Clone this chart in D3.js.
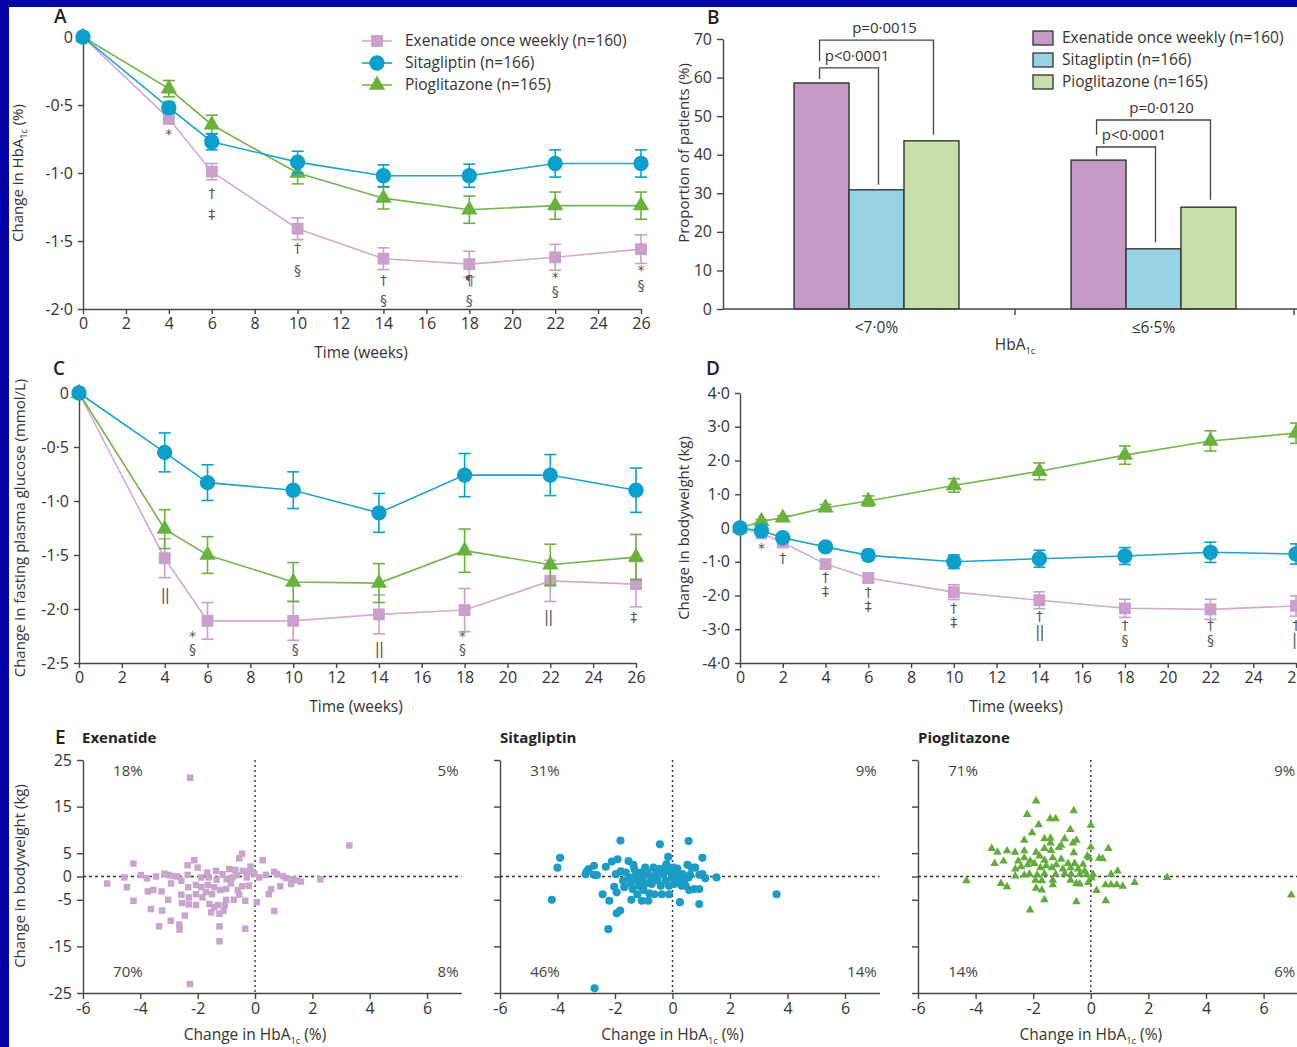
<!DOCTYPE html>
<html>
<head>
<meta charset="utf-8">
<script src="https://cdn.jsdelivr.net/npm/d3@7"></script>
<style>
body { margin: 0; background: #0303a6; overflow: hidden; }
svg { display: block; font-family: "Open Sans", sans-serif; }
</style>
</head>
<body>
<svg id="fig" width="1297" height="1047"></svg>
<script>
// ---- data ----
var seriesNames = ['Exenatide once weekly (n=160)', 'Sitagliptin (n=166)', 'Pioglitazone (n=165)'];
var weeks = [0, 4, 6, 10, 14, 18, 22, 26];
var weeksD = [0, 1, 2, 4, 6, 10, 14, 18, 22, 26];

// A: change in HbA1c (%)
var hbaExe = [0, -0.60, -0.99, -1.41, -1.63, -1.67, -1.62, -1.56];
var hbaExeErr = [0, 0.04, 0.06, 0.08, 0.08, 0.095, 0.095, 0.105];
var hbaSit = [0, -0.52, -0.77, -0.92, -1.02, -1.02, -0.93, -0.93];
var hbaSitErr = [0, 0.04, 0.06, 0.08, 0.08, 0.085, 0.1, 0.1];
var hbaPio = [0, -0.38, -0.645, -1.0, -1.185, -1.27, -1.24, -1.24];
var hbaPioErr = [0, 0.06, 0.07, 0.08, 0.08, 0.1, 0.1, 0.1];
var hbaNotes = [[4, -0.68, '*'], [6, -1.15, '†'], [6, -1.30, '‡'], [10, -1.55, '†'], [10, -1.71, '§'],
  [14, -1.79, '†'], [14, -1.93, '§'], [18, -1.79, '¶'], [18, -1.93, '§'], [22, -1.73, '*'], [22, -1.87, '§'],
  [26, -1.68, '*'], [26, -1.82, '§']];

// B: proportion of patients reaching target (%)
var targetGroups = ['<7·0%', '≤6·5%'];
var targetExe = [58.6, 38.6];
var targetSit = [30.9, 15.6];
var targetPio = [43.6, 26.4];
var pBrackets = [
  {group: 0, a: 0, b: 2, top: 69.7, endA: 64.3, endB: 45.2, label: 'p=0·0015'},
  {group: 0, a: 0, b: 1, top: 62.5, endA: 59.6, endB: 32.2, label: 'p<0·0001'},
  {group: 1, a: 0, b: 2, top: 49.0, endA: 45.2, endB: 28.3, label: 'p=0·0120'},
  {group: 1, a: 0, b: 1, top: 42.0, endA: 39.7, endB: 17.3, label: 'p<0·0001'}
];

// C: change in fasting plasma glucose (mmol/L)
var fpgExe = [0, -1.53, -2.11, -2.11, -2.05, -2.01, -1.74, -1.77];
var fpgExeErr = [0, 0.18, 0.17, 0.18, 0.18, 0.2, 0.19, 0.21];
var fpgSit = [0, -0.55, -0.83, -0.90, -1.11, -0.76, -0.76, -0.90];
var fpgSitErr = [0, 0.18, 0.165, 0.17, 0.18, 0.2, 0.19, 0.205];
var fpgPio = [0, -1.26, -1.50, -1.75, -1.76, -1.46, -1.59, -1.52];
var fpgPioErr = [0, 0.18, 0.17, 0.18, 0.18, 0.2, 0.19, 0.21];
var fpgNotes = [[4, -1.87, '||'], [5.3, -2.21, '*'], [5.3, -2.37, '§'], [10.1, -2.37, '§'], [14, -2.37, '||'],
  [17.9, -2.21, '*'], [17.9, -2.37, '§'], [21.9, -2.07, '||'], [25.9, -2.07, '‡']];

// D: change in bodyweight (kg)
var bwExe = [0, -0.16, -0.43, -1.07, -1.48, -1.90, -2.14, -2.38, -2.41, -2.31];
var bwExeErr = [0, 0.05, 0.06, 0.12, 0.15, 0.22, 0.25, 0.27, 0.3, 0.3];
var bwSit = [0, -0.08, -0.29, -0.56, -0.81, -1.0, -0.91, -0.83, -0.72, -0.77];
var bwSitErr = [0, 0.05, 0.06, 0.1, 0.15, 0.2, 0.25, 0.25, 0.3, 0.3];
var bwPio = [0, 0.2, 0.3, 0.6, 0.8, 1.26, 1.68, 2.16, 2.58, 2.81];
var bwPioErr = [0, 0.05, 0.06, 0.1, 0.15, 0.2, 0.25, 0.27, 0.3, 0.3];
var bwNotes = [[1, -0.44, '*'], [2, -0.89, '†'], [4, -1.45, '†'], [4, -1.87, '‡'], [6, -1.90, '†'], [6, -2.31, '‡'],
  [10, -2.37, '†'], [10, -2.79, '‡'], [14, -2.61, '†'], [14, -3.08, '||'], [18, -2.87, '†'], [18, -3.32, '§'],
  [22, -2.87, '†'], [22, -3.32, '§'], [26, -2.87, '†'], [26, -3.32, '||']];

// E: individual change in HbA1c (%) vs bodyweight (kg)
var scExeX = [-2.26, 3.29, -4.24, -5.16, -4.56, -4.47, -4.24, -3.98, -3.77, -3.74, -3.55, -3.63, -3.45, -3.26, -3.24,
  -3.34, -3.16, -3.03, -3.03, -2.94, -2.93, -2.87, -2.70, -2.64, -2.63, -2.57, -2.57, -2.55, -2.45, -2.35, -2.35,
  -2.33, -2.31, -2.31, -2.27, -2.12, -2.06, -2.06, -2.06, -2.00, -1.88, -1.88, -1.83, -1.71, -1.67, -1.65, -1.62,
  -1.59, -1.53, -1.50, -1.42, -1.42, -1.36, -1.34, -1.30, -1.24, -1.24, -1.24, -1.22, -1.13, -1.10, -1.06, -1.01,
  -1.01, -0.99, -0.90, -0.84, -0.78, -0.74, -0.69, -0.64, -0.60, -0.55, -0.55, -0.45, -0.45, -0.43, -0.34, -0.34,
  -0.29, -0.26, -0.22, -0.16, -0.08, -0.02, 0.06, 0.15, 0.27, 0.38, 0.48, 0.56, 0.67, 0.67, 0.77, 0.88, 0.97,
  1.08, 1.26, 1.31, 1.43, 1.60, 2.28];
var scExeY = [21.2, 6.67, 2.77, -1.5, -0.2, -2.3, -5.2, 0.3, -0.4, -3.2, -2.9, -7.0, 0, -3.2, -7.3,
  -10.7, 0.6, 0.35, -5.0, -9.5, -1.5, 0.1, 0, -10.3, -11.4, -0.9, -3.9, -5.7, -8.4, 2.4, 0.35,
  -2.3, -4.5, -6.0, -23.1, 3.5, -1.8, -3.8, -6.1, 1.9, -0.2, -2.3, -4.5, -3.3, 0.85, -1.8, -0.2,
  -5.9, -7.7, -3.8, -2.3, -6.6, 1.2, -0.7, -6.1, -10.7, -13.9, -8.0, -2.9, 0.5, -7.4, -6.2, -2.7,
  -5.0, -0.6, 1.6, -1.5, -0.2, -5.0, 1.4, 0.3, -2.9, -3.9, 3.9, 4.9, -2.1, 1.2, -5.2, -11.2,
  -0.2, 1.1, -2.0, 2.1, 0.9, 0.6, -5.5, -0.2, 3.5, 0.35, -3.8, -2.7, 1.0, -7.4, 0.5, -2.1, 0.1,
  -0.35, -1.6, -0.6, -0.8, -1.1, -0.6];
var scSitX = [-1.81, -0.44, 0.56, -3.91, -4.00, -4.20, -2.99, -2.92, -2.73, -2.73, -2.63, -3.02, -2.43, -2.32, -2.20,
  -2.23, -2.11, -1.91, -1.94, -1.82, -1.97, -2.03, -1.94, -1.80, -1.72, -1.68, -1.62, -1.53, -1.51, -1.45, -1.43,
  -1.39, -1.36, -1.33, -1.28, -1.24, -1.22, -1.16, -1.10, -1.07, -1.04, -1.01, -0.95, -0.93, -0.87, -0.84, -0.81,
  -0.75, -0.72, -0.66, -0.63, -0.58, -0.52, -0.46, -0.41, -0.37, -0.32, -0.26, -0.23, -0.21, -0.15, -0.12, -0.12,
  -0.06, -0.02, 0.02, 0.06, 0.12, 0.17, 0.23, 0.26, 0.32, 0.35, 0.41, 0.46, 0.52, 0.56, 0.58, 0.61, 0.67, 0.75,
  0.79, 0.93, 0.93, 0.93, 1.04, 1.04, 1.14, 1.53, 3.62, -2.71];
var scSitY = [7.7, 6.9, 7.6, 4.0, 1.9, -5.0, 1.0, 1.6, 2.3, 0.35, 0.3, 0.5, -3.8, 2.1, -5.2,
  -11.3, 3.2, 3.7, -7.9, -7.3, 0.5, -2.2, -3.4, 1.1, -0.9, -2.3, 0.85, 3.3, -0.2, -1.5, -5.0,
  -2.7, 2.5, 1.6, 0.3, -0.8, -3.8, -2.0, 0.85, -5.2, -0.35, -2.9, 1.9, -1.5, 0.85, -5.2, -3.6,
  -0.2, -1.6, 1.9, -3.8, 0.5, -0.8, 1.6, -2.0, -3.8, 0.5, 1.9, -0.9, 2.6, 4.2, -3.8, -2.0,
  0.85, -0.2, 1.9, -1.6, 0.5, 1.7, -0.6, -5.5, -2.0, 0.5, -0.9, -2.0, 2.5, -0.2, -2.9, 0.35, 1.9, -2.7,
  1.9, -2.7, -5.9, 0.35, 4.0, 0.5, -0.35, -0.2, -3.8, -24.0];
var scPioX = [-1.90, -0.59, -2.21, -1.41, -1.22, -1.81, 0.0, -0.71, -2.04, -1.61, -1.40, -2.31, -0.91, -0.50, -0.62,
  -1.03, -1.40, -3.44, -3.24, -2.91, -2.63, -2.31, -1.90, -1.61, -1.38, -1.11, -0.59, 0.0, 0.61, -3.34, -3.03,
  -2.52, -2.31, -2.10, -1.78, -1.61, -1.32, -1.03, -0.79, -0.56, -0.27, -0.12, -0.06, 0.29, 0.41, -2.62, -2.42,
  -2.19, -1.96, -1.75, -1.55, -1.35, -1.20, -0.97, -0.70, -0.44, -0.21, -2.62, -2.31, -2.13, -1.86, -1.61, -1.22,
  -0.91, -0.68, -0.38, -0.15, 0.08, 0.70, 0.93, -4.32, -3.12, -2.91, -1.92, -1.90, -1.70, -1.70, -1.32, -1.32,
  -0.70, -0.50, -0.38, -0.09, 0.02, 0.20, 0.51, 0.70, 0.90, 1.11, 1.52, 2.65, -1.61, -0.50, 0.52, -2.11, 6.96];
var scPioY = [16.2, 14.1, 13.3, 12.4, 12.4, 11.1, 11.0, 10.1, 9.4, 8.1, 8.2, 7.8, 8.1, 7.8, 7.2,
  6.7, 7.2, 6.0, 5.2, 5.5, 5.2, 5.5, 5.2, 6.0, 5.6, 6.2, 5.1, 6.3, 6.0, 2.8, 3.3,
  3.3, 4.0, 3.3, 4.4, 3.5, 4.0, 3.7, 2.8, 2.8, 2.6, 4.4, 4.0, 3.9, 3.8, 1.6, 2.1,
  2.5, 2.8, 1.9, 2.3, 1.9, 2.5, 1.6, 1.9, 1.6, 1.2, 0.1, 0.3, 0.5, 0.35, 0.6, 0.5,
  0.6, 0.5, 0.5, 0.35, 0.5, 0.5, 1.2, -0.9, -1.5, -2.2, -0.8, -2.5, -2.9, -0.9, -1.8, -0.8,
  -0.8, -1.5, -1.6, -1.3, -0.35, -3.0, -1.8, -1.8, -1.8, -2.1, -1.3, -0.2, -5.0, -5.4, -5.2, -7.2, -4.0];
var quadExe = ['18%', '5%', '70%', '8%'];
var quadSit = ['31%', '9%', '46%', '14%'];
var quadPio = ['71%', '9%', '14%', '6%'];

// ---- style ----
var markColor = ['#c8a0c9', '#0c9fca', '#6ab13e'];
var lineColor = ['#d3aad3', '#1ea3cb', '#74b64a'];
var barColor = ['#c49bc4', '#98d3e1', '#c7e0aa'];
var dotColor = ['#c9a5cd', '#1c9cc4', '#62ab3c'];
var symbols = [d3.symbolSquare, d3.symbolCircle, d3.symbolTriangle];
var symSize = [140, 185, 115];
var ink = '#333';
var axisInk = '#444';

var svg = d3.select('#fig');
svg.append('rect')
    .attr('x', 9).attr('y', 7)
    .attr('width', 1297).attr('height', 1047)
    .attr('fill', '#fff');

function fmtDec(d) {
    if (d === 0) return '0';
    return d3.format('.1f')(d).replace('.', '·').replace('−', '-');
}
function fmtInt(d) {
    return String(d).replace('−', '-');
}

function styleAxis(g) {
    g.attr('font-family', null).attr('font-size', 16);
    g.selectAll('path.domain').attr('stroke', axisInk).attr('stroke-width', 1.4);
    g.selectAll('.tick line').attr('stroke', axisInk).attr('stroke-width', 1.4);
    g.selectAll('.tick text').attr('fill', ink);
}

function hbaLabel(sel, before, after) {
    sel.append('tspan').text(before + 'HbA');
    sel.append('tspan').attr('font-size', '0.6em').attr('dy', 4).text('1c');
    sel.append('tspan').attr('dy', -4).text(after);
}

function panelLetter(x, y, s) {
    svg.append('text').attr('x', x).attr('y', y)
        .attr('font-size', 19).attr('font-weight', 600).attr('fill', '#222')
        .text(s);
}

function yTitle(x, cy, s) {
    return svg.append('text')
        .attr('transform', 'translate(' + x + ',' + cy + ') rotate(-90)')
        .attr('text-anchor', 'middle').attr('dy', '0.35em')
        .attr('font-size', 15).attr('fill', ink)
        .text(s);
}

function xTitle(cx, y, s) {
    return svg.append('text')
        .attr('x', cx).attr('y', y)
        .attr('text-anchor', 'middle')
        .attr('font-size', 15.5).attr('fill', ink)
        .text(s);
}

function drawLines(p) {
    var x = d3.scaleLinear().domain([0, 26]).range(p.xr);
    var y = d3.scaleLinear().domain(p.yd).range(p.yr);
    var g = svg.append('g');
    g.append('g')
        .attr('transform', 'translate(0,' + p.yr[0] + ')')
        .call(d3.axisBottom(x).tickValues(d3.range(0, 27, 2)).tickSize(5).tickSizeOuter(0).tickPadding(4))
        .call(styleAxis);
    g.append('g')
        .attr('transform', 'translate(' + p.xr[0] + ',0)')
        .call(d3.axisLeft(y).tickValues(p.yt).tickFormat(fmtDec).tickSize(5).tickSizeOuter(0).tickPadding(5))
        .call(styleAxis);

    var line = d3.line()
        .x(function (d) { return x(d[0]); })
        .y(function (d) { return y(d[1]); });

    p.series.forEach(function (s) {
        var sg = g.append('g');
        var pts = d3.zip(p.t, s.v, s.e);
        sg.append('path')
            .datum(pts)
            .attr('d', line)
            .attr('fill', 'none')
            .attr('stroke', lineColor[s.k])
            .attr('stroke-width', 1.6);
        var eb = sg.selectAll('g.eb')
            .data(pts.filter(function (d) { return d[2] > 0; }))
            .enter().append('g')
            .attr('stroke', markColor[s.k])
            .attr('stroke-width', 1.6);
        eb.append('line')
            .attr('x1', function (d) { return x(d[0]); })
            .attr('x2', function (d) { return x(d[0]); })
            .attr('y1', function (d) { return y(d[1] - d[2]); })
            .attr('y2', function (d) { return y(d[1] + d[2]); });
        [-1, 1].forEach(function (sgn) {
            eb.append('line')
                .attr('x1', function (d) { return x(d[0]) - 6; })
                .attr('x2', function (d) { return x(d[0]) + 6; })
                .attr('y1', function (d) { return y(d[1] + sgn * d[2]); })
                .attr('y2', function (d) { return y(d[1] + sgn * d[2]); });
        });
        sg.selectAll('path.mk')
            .data(pts)
            .enter().append('path')
            .attr('class', 'mk')
            .attr('transform', function (d) { return 'translate(' + x(d[0]) + ',' + y(d[1]) + ')'; })
            .attr('d', d3.symbol().type(symbols[s.k]).size(symSize[s.k]))
            .attr('fill', markColor[s.k]);
    });

    g.selectAll('text.note')
        .data(p.notes)
        .enter().append('text')
        .attr('class', 'note')
        .attr('x', function (d) { return x(d[0]); })
        .attr('y', function (d) { return y(d[1]); })
        .attr('dy', function (d) { return d[2] === '*' ? '0.7em' : '0.36em'; })
        .attr('text-anchor', 'middle')
        .attr('font-family', '"DejaVu Sans", sans-serif')
        .attr('font-size', function (d) { return d[2] === '||' ? 15 : 14; })
        .attr('letter-spacing', function (d) { return d[2] === '||' ? -1 : 0; })
        .attr('fill', '#555')
        .text(function (d) { return d[2]; });
    return {x: x, y: y};
}

// ---- A ----
panelLetter(54, 23, 'A');
drawLines({
    xr: [83, 641], yr: [309, 37], yd: [-2, 0], yt: [0, -0.5, -1, -1.5, -2], t: weeks,
    series: [
        {k: 0, v: hbaExe, e: hbaExeErr},
        {k: 2, v: hbaPio, e: hbaPioErr},
        {k: 1, v: hbaSit, e: hbaSitErr}
    ],
    notes: hbaNotes
});
hbaLabel(yTitle(18, 173, null), 'Change in ', ' (%)');
xTitle(361, 358, 'Time (weeks)');

var legA = svg.append('g').attr('transform', 'translate(362,41)');
[0, 1, 2].forEach(function (k) {
    var row = legA.append('g').attr('transform', 'translate(0,' + k * 22 + ')');
    row.append('line').attr('x1', 0).attr('x2', 30)
        .attr('stroke', lineColor[k]).attr('stroke-width', 1.6);
    row.append('path').attr('transform', 'translate(15,0)')
        .attr('d', d3.symbol().type(symbols[k]).size(symSize[k]))
        .attr('fill', markColor[k]);
    row.append('text').attr('x', 43).attr('dy', '0.35em')
        .attr('font-size', 15.5).attr('fill', ink).text(seriesNames[k]);
});

// ---- B ----
panelLetter(707, 24, 'B');
(function () {
    var xg = d3.scaleBand().domain(targetGroups).range([738, 1292]);
    var xs = d3.scaleBand().domain([0, 1, 2]).range([0, xg.bandwidth()]).paddingOuter(1.02);
    var y = d3.scaleLinear().domain([0, 70]).range([309, 39]);
    var g = svg.append('g');
    var vals = [targetExe, targetSit, targetPio];

    targetGroups.forEach(function (grp, gi) {
        [0, 1, 2].forEach(function (k) {
            g.append('rect')
                .attr('x', xg(grp) + xs(k))
                .attr('y', y(vals[k][gi]))
                .attr('width', xs.bandwidth())
                .attr('height', y(0) - y(vals[k][gi]))
                .attr('fill', barColor[k])
                .attr('stroke', '#333')
                .attr('stroke-width', 1.4);
        });
    });

    g.append('line').attr('x1', 723).attr('x2', 1297).attr('y1', y(0)).attr('y2', y(0))
        .attr('stroke', axisInk).attr('stroke-width', 1.4);
    [xg.range()[0] + xg.bandwidth(), 1294].forEach(function (tx) {
        g.append('line').attr('x1', tx).attr('x2', tx).attr('y1', y(0)).attr('y2', y(0) + 6)
            .attr('stroke', axisInk).attr('stroke-width', 1.4);
    });
    g.selectAll('text.cat').data(targetGroups).enter().append('text')
        .attr('x', function (d) { return xg(d) + xg.bandwidth() / 2; })
        .attr('y', 333).attr('text-anchor', 'middle')
        .attr('font-size', 15.5).attr('fill', ink)
        .text(function (d) { return d; });

    g.append('g')
        .attr('transform', 'translate(723,0)')
        .call(d3.axisLeft(y).tickValues(d3.range(0, 71, 10)).tickFormat(fmtInt).tickSize(6).tickSizeOuter(0).tickPadding(5))
        .call(styleAxis);

    pBrackets.forEach(function (b) {
        var grp = targetGroups[b.group];
        var xa = xg(grp) + xs(b.a) + xs.bandwidth() / 2 - 2;
        var xb = xg(grp) + xs(b.b) + xs.bandwidth() / 2 + 2;
        g.append('path')
            .attr('d', 'M' + xa + ',' + y(b.endA) + 'V' + y(b.top) + 'H' + xb + 'V' + y(b.endB))
            .attr('fill', 'none').attr('stroke', '#444').attr('stroke-width', 1.3);
        g.append('text')
            .attr('x', (xa + xb) / 2 + 8).attr('y', y(b.top) - 7)
            .attr('text-anchor', 'middle').attr('font-size', 15).attr('fill', ink)
            .text(b.label);
    });

    var leg = svg.append('g').attr('transform', 'translate(1033,38)');
    [0, 1, 2].forEach(function (k) {
        var row = leg.append('g').attr('transform', 'translate(0,' + k * 22 + ')');
        row.append('rect').attr('x', 0).attr('y', -7).attr('width', 20).attr('height', 14)
            .attr('fill', barColor[k]).attr('stroke', '#333').attr('stroke-width', 1.3);
        row.append('text').attr('x', 29).attr('dy', '0.35em')
            .attr('font-size', 15.5).attr('fill', ink).text(seriesNames[k]);
    });

    yTitle(684, 153, 'Proportion of patients (%)');
    hbaLabel(xTitle(1015, 350, null), '', '');
})();

// ---- C ----
panelLetter(53, 375, 'C');
drawLines({
    xr: [79, 636], yr: [663, 393], yd: [-2.5, 0], yt: [0, -0.5, -1, -1.5, -2, -2.5], t: weeks,
    series: [
        {k: 0, v: fpgExe, e: fpgExeErr},
        {k: 2, v: fpgPio, e: fpgPioErr},
        {k: 1, v: fpgSit, e: fpgSitErr}
    ],
    notes: fpgNotes
});
yTitle(20, 528, 'Change in fasting plasma glucose (mmol/L)');
xTitle(356, 712, 'Time (weeks)');

// ---- D ----
panelLetter(706, 375, 'D');
drawLines({
    xr: [740, 1296], yr: [663, 393], yd: [-4, 4], yt: [4, 3, 2, 1, 0, -1, -2, -3, -4], t: weeksD,
    series: [
        {k: 0, v: bwExe, e: bwExeErr},
        {k: 2, v: bwPio, e: bwPioErr},
        {k: 1, v: bwSit, e: bwSitErr}
    ],
    notes: bwNotes
});
yTitle(684, 528, 'Change in bodyweight (kg)');
xTitle(1016, 712, 'Time (weeks)');

// ---- E ----
function drawScatter(p) {
    var x = d3.scaleLinear().domain([-6, 7.2]).range([p.x0, p.x0 + 13.2 * p.unit]);
    var y = d3.scaleLinear().domain([-25, 25]).range([993, 760]);
    var g = svg.append('g');
    g.append('g')
        .attr('transform', 'translate(0,993)')
        .call(d3.axisBottom(x).tickValues(d3.range(-6, 7, 2)).tickFormat(fmtInt).tickSize(6).tickSizeOuter(0).tickPadding(4))
        .call(styleAxis);
    g.append('g')
        .attr('transform', 'translate(' + p.x0 + ',0)')
        .call(d3.axisLeft(y).tickValues([25, 15, 5, 0, -5, -15, -25])
            .tickFormat(p.labels ? fmtInt : function () { return ''; })
            .tickSize(6).tickSizeOuter(0).tickPadding(5))
        .call(styleAxis);
    g.append('line').attr('x1', x(-6)).attr('x2', x(7.2)).attr('y1', y(0)).attr('y2', y(0))
        .attr('stroke', '#333').attr('stroke-width', 1.4).attr('stroke-dasharray', '3,3');
    g.append('line').attr('x1', x(0)).attr('x2', x(0)).attr('y1', y(25)).attr('y2', y(-25))
        .attr('stroke', '#333').attr('stroke-width', 1.4).attr('stroke-dasharray', '2,3');
    g.selectAll('path.pt')
        .data(d3.zip(p.xs, p.ys))
        .enter().append('path')
        .attr('transform', function (d) { return 'translate(' + x(d[0]) + ',' + y(d[1]) + ')'; })
        .attr('d', d3.symbol().type(symbols[p.k]).size([42, 52, 32][p.k]))
        .attr('fill', dotColor[p.k]);
    var q = [[-4.95, 22.8, 'start'], [7.1, 22.8, 'end'], [-4.95, -20.4, 'start'], [7.1, -20.4, 'end']];
    q.forEach(function (c, i) {
        g.append('text').attr('x', x(c[0])).attr('y', y(c[1])).attr('dy', '0.35em')
            .attr('text-anchor', c[2]).attr('font-size', 15).attr('fill', '#444')
            .text(p.quad[i]);
    });
    g.append('text').attr('x', p.x0 - (p.labels ? 1 : 0)).attr('y', 743)
        .attr('font-size', 15).attr('font-weight', 700).attr('fill', '#222')
        .text(p.title);
    hbaLabel(xTitle(x(0), 1040, null), 'Change in ', ' (%)');
}

panelLetter(55, 744, 'E');
drawScatter({x0: 83, unit: 28.67, k: 0, xs: scExeX, ys: scExeY, quad: quadExe, labels: true, title: 'Exenatide'});
drawScatter({x0: 500, unit: 28.75, k: 1, xs: scSitX, ys: scSitY, quad: quadSit, labels: false, title: 'Sitagliptin'});
drawScatter({x0: 918, unit: 28.8, k: 2, xs: scPioX, ys: scPioY, quad: quadPio, labels: false, title: 'Pioglitazone'});
yTitle(20, 876, 'Change in bodyweight (kg)');
</script>
</body>
</html>
